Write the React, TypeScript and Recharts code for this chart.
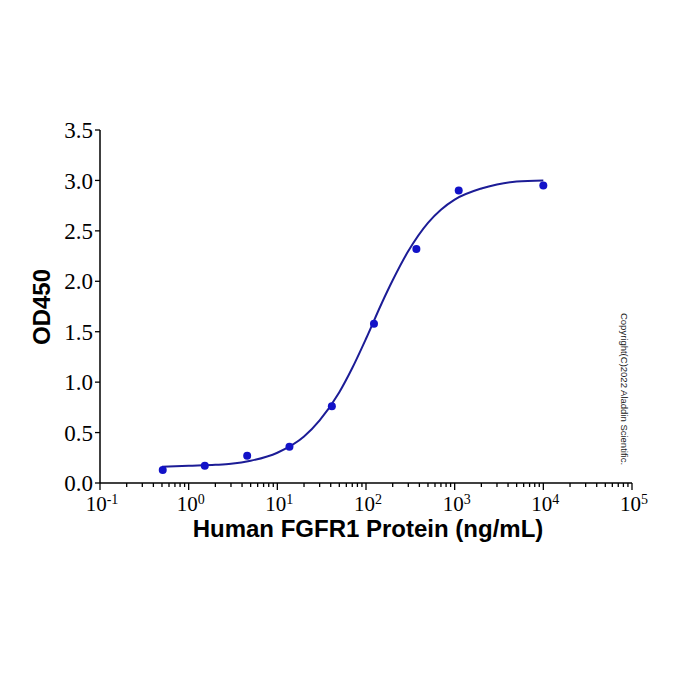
import { ComposedChart, Line, Scatter, XAxis, YAxis } from "recharts"

// measured points (ng/mL vs OD450)
const conc = [0.51, 1.52, 4.57, 13.7, 41.2, 123, 370, 1111, 10000]
const od = [0.13, 0.17, 0.27, 0.36, 0.76, 1.58, 2.32, 2.9, 2.95]

// fitted curve
const fitX = [0.5, 1, 2, 3, 5, 10, 20, 30, 50, 70, 100, 150, 200, 300, 500, 700, 1000, 2000, 3000, 5000, 10000]
const fitY = [0.16, 0.17, 0.18, 0.19, 0.22, 0.3, 0.46, 0.62, 0.9, 1.14, 1.43, 1.78, 2.01, 2.3, 2.58, 2.71, 2.81, 2.92, 2.96, 2.99, 3.0]

const majorTicks = [0.1, 1, 10, 100, 1000, 10000, 100000]
const minorSteps = [2, 3, 4, 5, 6, 7, 8, 9]
const yTicks = [0, 0.5, 1, 1.5, 2, 2.5, 3, 3.5]

const points = conc.map((x, i) => ({ x, y: od[i] }))
const curve = fitX.map((x, i) => ({ x, y: fitY[i] }))
const xTicks = [
  ...majorTicks,
  ...majorTicks.slice(0, -1).flatMap((d) => minorSteps.map((m) => +(d * m).toPrecision(3))),
].sort((a, b) => a - b)

const SERIF = "'Liberation Serif', 'Times New Roman', serif"
const SANS = "'Liberation Sans', Arial, sans-serif"

function XTick({ x, y, payload }: any) {
  const v = payload.value as number
  const e = Math.round(Math.log10(v))
  const major = majorTicks.includes(v)
  return (
    <g>
      <line x1={x} x2={x} y1={y} y2={y + (major ? 7 : 4)} stroke="#000" strokeWidth={1.3} />
      {major && (
        <text x={x + 2} y={y + 28} textAnchor="middle" fontFamily={SERIF} fontSize={21} fill="#000">
          10
          <tspan dy={-7} fontSize={14}>
            {e}
          </tspan>
        </text>
      )}
    </g>
  )
}

function Dot({ cx, cy }: any) {
  return <circle cx={cx} cy={cy} r={4} fill="#1212c8" />
}

export default function App() {
  return (
    <div style={{ position: "absolute", left: 0, top: 0, width: 700, height: 700, background: "#fff" }}>
      <ComposedChart width={700} height={700} margin={{ top: 130, right: 68, left: 40, bottom: 177 }}>
        <XAxis
          dataKey="x"
          type="number"
          scale="log"
          domain={[0.1, 100000]}
          allowDataOverflow
          ticks={xTicks}
          interval={0}
          tickLine={false}
          tickSize={0}
          tickMargin={0}
          tick={<XTick />}
          height={40}
          axisLine={{ stroke: "#000", strokeWidth: 1.5 }}
        />
        <YAxis
          type="number"
          domain={[0, 3.5]}
          ticks={yTicks}
          interval={0}
          width={60}
          tickSize={5}
          tickMargin={2}
          tickFormatter={(v: number) => v.toFixed(1)}
          tick={{ fill: "#000", fontFamily: SERIF, fontSize: 23 }}
          tickLine={{ stroke: "#000", strokeWidth: 1.3 }}
          axisLine={{ stroke: "#000", strokeWidth: 1.5 }}
        />
        <Line
          data={curve}
          dataKey="y"
          type="monotone"
          stroke="#1c1c96"
          strokeWidth={2}
          dot={false}
          isAnimationActive={false}
        />
        <Scatter data={points} dataKey="y" shape={<Dot />} isAnimationActive={false} />
      </ComposedChart>
      <div
        style={{
          position: "absolute",
          left: 42,
          top: 307,
          transform: "translate(-50%, -50%) rotate(-90deg)",
          fontFamily: SANS,
          fontWeight: "bold",
          fontSize: 24,
          whiteSpace: "nowrap",
          color: "#000",
        }}
      >
        OD450
      </div>
      <div
        style={{
          position: "absolute",
          left: 368,
          top: 517,
          transform: "translateX(-50%)",
          fontFamily: SANS,
          fontWeight: "bold",
          fontSize: 24,
          lineHeight: 1,
          whiteSpace: "nowrap",
          color: "#000",
        }}
      >
        Human FGFR1 Protein (ng/mL)
      </div>
      <div
        style={{
          position: "absolute",
          left: 624,
          top: 389,
          transform: "translate(-50%, -50%) rotate(90deg)",
          fontFamily: SANS,
          fontSize: 9.5,
          whiteSpace: "nowrap",
          color: "#222",
        }}
      >
        Copyright(C)2022 Aladdin Scientific.
      </div>
    </div>
  )
}
